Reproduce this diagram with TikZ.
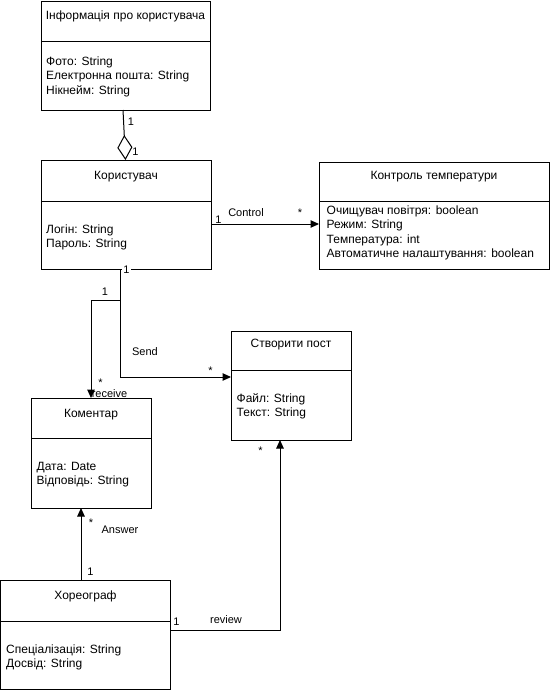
\documentclass[tikz,border=0pt]{standalone}
\usepackage{fontspec}
\setmainfont{Liberation Sans}
\usetikzlibrary{arrows.meta,calc}
\begin{document}
\begin{tikzpicture}[x=1pt,y=-1pt,
  box/.style={draw,line width=1pt,anchor=north west,inner sep=0pt,outer sep=0pt},
  ttl/.style={font=\fontsize{12}{14}\selectfont,anchor=base,inner sep=0pt},
  attr/.style={font=\fontsize{12}{14}\selectfont,anchor=base west,inner sep=0pt},
  lbl/.style={font=\fontsize{11}{13}\selectfont,inner sep=0.5pt},
  assoc/.style={line width=1pt,-{Triangle[length=8.5pt,width=7.5pt]}},
  divider/.style={line width=1pt}]

\fill[white] (0,0) rectangle (551,691);
\useasboundingbox (0,0) rectangle (551,691);

% class boxes
\node[box,minimum width=169pt,minimum height=109pt] (info) at (41,1) {};
\node[box,minimum width=170pt,minimum height=109pt] (kor)  at (41,160) {};
\node[box,minimum width=230pt,minimum height=107pt] (ktrl) at (319,162) {};
\node[box,minimum width=120pt,minimum height=109pt] (post) at (231,331) {};
\node[box,minimum width=120pt,minimum height=110pt] (kom)  at (31,398) {};
\node[box,minimum width=170pt,minimum height=109pt] (khor) at (0.5,580) {};

% compartment dividers
\draw[divider] ($(info.north west)+(0,40)$) -- ($(info.north east)+(0,40)$);
\draw[divider] ($(kor.north west)+(0,41)$) -- ($(kor.north east)+(0,41)$);
\draw[divider] ($(ktrl.north west)+(0,39)$) -- ($(ktrl.north east)+(0,39)$);
\draw[divider] ($(post.north west)+(0,39)$) -- ($(post.north east)+(0,39)$);
\draw[divider] ($(kom.north west)+(0,40)$) -- ($(kom.north east)+(0,40)$);
\draw[divider] ($(khor.north west)+(0,41)$) -- ($(khor.north east)+(0,41)$);

% titles
\node[ttl] (info-t) at (125.5,19.3) {Інформація про користувача};
\node[ttl] (kor-t)  at (126,179.3) {Користувач};
\node[ttl] (ktrl-t) at (434,179.3) {Контроль температури};
\node[ttl] (post-t) at (291,347.3) {Створити пост};
\node[ttl] (kom-t)  at (91,417) {Коментар};
\node[ttl] (khor-t) at (85.5,599.3) {Хореограф};

% attributes
\node[attr] (info-a1) at (46,65.1) {Фото: String};
\node[attr] (info-a2) at (46,79.6) {Електронна пошта: String};
\node[attr] (info-a3) at (46,94.1) {Нікнейм: String};
\node[attr] (kor-a1) at (46,233.3) {Логін: String};
\node[attr] (kor-a2) at (46,247.8) {Пароль: String};
\node[attr] (ktrl-a1) at (326.5,214.3) {Очищувач повітря: boolean};
\node[attr] (ktrl-a2) at (326.5,228.8) {Режим: String};
\node[attr] (ktrl-a3) at (326.5,243.3) {Температура: int};
\node[attr] (ktrl-a4) at (326.5,257.8) {Автоматичне налаштування: boolean};
\node[attr] (post-a1) at (236.5,402.3) {Файл: String};
\node[attr] (post-a2) at (236.5,416.8) {Текст: String};
\node[attr] (kom-a1) at (36.5,470.3) {Дата: Date};
\node[attr] (kom-a2) at (36.5,484.8) {Відповідь: String};
\node[attr] (khor-a1) at (6,653.3) {Спеціалізація: String};
\node[attr] (khor-a2) at (6,667.8) {Досвід: String};

% aggregation
\draw[line width=1pt,-{Diamond[open,length=25pt,width=15pt]}]
  ($(info.south)+(-2.5,0)$) -- ($(kor.north)+(-0.5,0)$);
\node[lbl] (agg-m1) at (131,122) {1};
\node[lbl] (agg-m2) at (135.5,152) {1};

% Control
\draw[assoc] ($(kor.north east)+(0,64)$) -- ($(ktrl.north west)+(0,62)$);
\node[lbl] (ctl-m1) at (218.5,220) {1};
\node[lbl] (ctl-l)  at (246,213) {Control};
\node[lbl] (ctl-m2) at (300,213) {*};

% Send and receive
\coordinate (sendstart) at ($(kor.south)+(-6,0)$);
\draw[assoc] (sendstart) |- ($(post.north west)+(0,46)$);
\draw[assoc] (sendstart) -- ++(0,31) -| (kom.north);
\node[lbl,fill=white,inner sep=1pt] (snd-m1) at (126.5,270) {1};
\node[lbl] (rcv-m1) at (105,292) {1};
\node[lbl] (snd-l)  at (145,352) {Send};
\node[lbl] (snd-m2) at (210.5,371) {*};
\node[lbl] (rcv-m2) at (100.5,383) {*};
\node[lbl] (rcv-l)  at (109.5,393.5) {receive};

% Answer
\coordinate (ansstart) at ($(khor.north west)+(80.5,0)$);
\draw[assoc] (ansstart) -- (ansstart |- kom.south);
\node[lbl] (ans-m2) at (91,523) {*};
\node[lbl] (ans-l)  at (120,530) {Answer};
\node[lbl] (ans-m1) at (90.5,572) {1};

% review
\draw[assoc] ($(khor.north east)+(0,50)$) -| ($(post.south west)+(49,0)$);
\node[lbl] (rev-m1) at (176.5,622) {1};
\node[lbl] (rev-l)  at (226,620) {review};
\node[lbl] (rev-m2) at (260.5,451) {*};

\end{tikzpicture}
\end{document}
